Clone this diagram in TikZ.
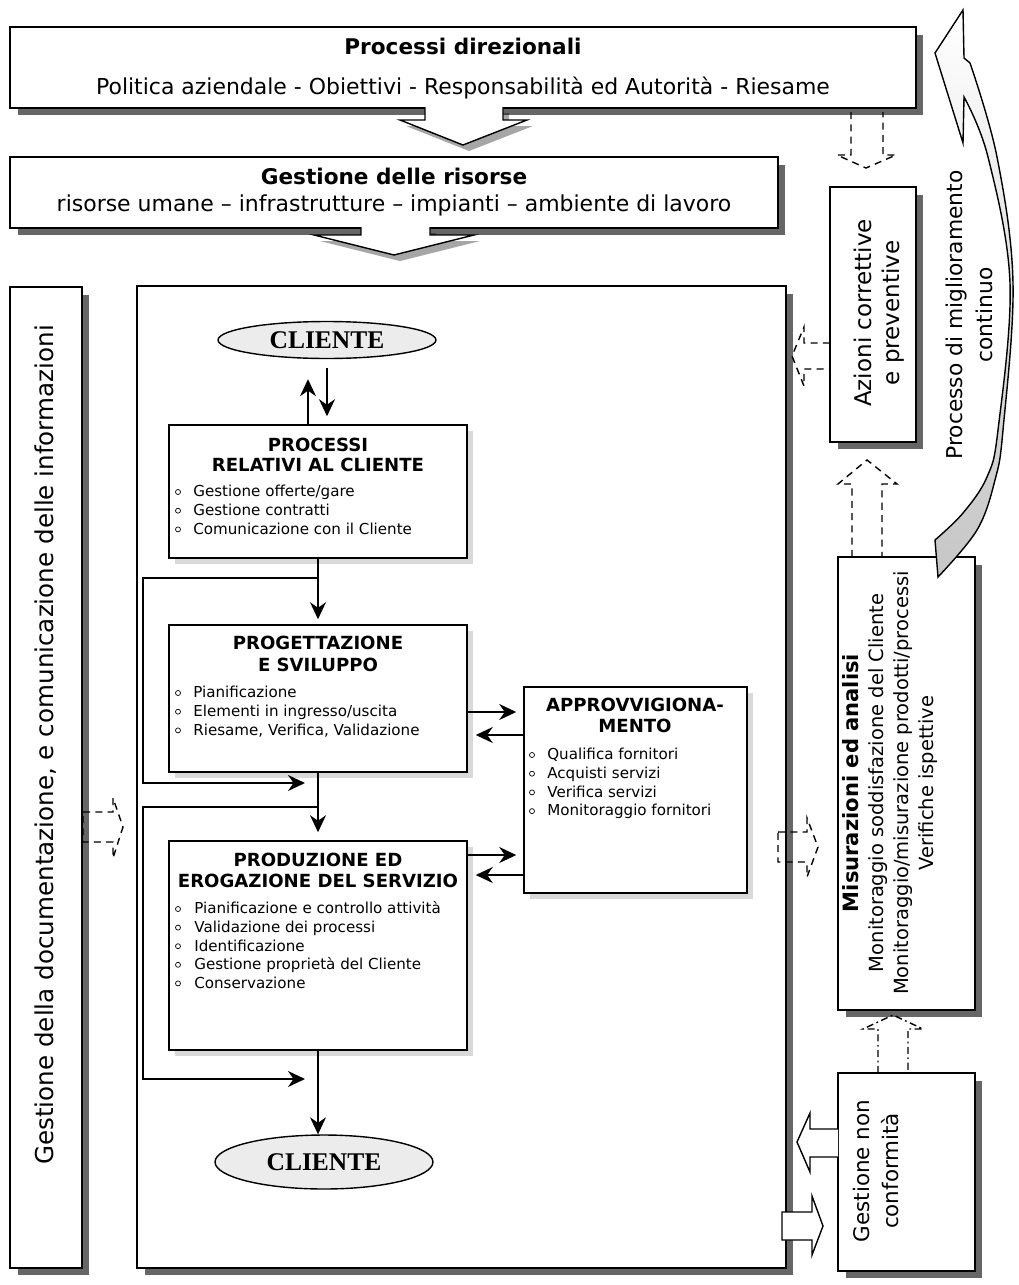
\documentclass[tikz,border=0pt]{standalone}
\usepackage{fontspec}
\setmainfont{DejaVu Sans}
\newfontfamily\clfont{Liberation Serif}
\usetikzlibrary{shadows,arrows.meta,positioning,shapes.geometric}

\tikzset{
  box/.style={draw, line width=1pt, fill=white, inner sep=0pt},
  inbox/.style={draw, line width=0.9pt, fill=white, inner sep=0pt},
  bigshadow/.style={drop shadow={shadow xshift=0.15cm, shadow yshift=-0.15cm, opacity=0.6, fill=black}},
  softshadow/.style={drop shadow={shadow xshift=0.12cm, shadow yshift=-0.12cm, opacity=0.15, fill=black}},
  arrshadow/.style={drop shadow={shadow xshift=0.12cm, shadow yshift=-0.12cm, opacity=0.35, fill=black}},
  cliente/.style={draw, ellipse, fill=gray!15, line width=0.8pt, inner sep=0pt,
    font=\clfont\bfseries\fontsize{14.5}{16}\selectfont},
  flow/.style={line width=1pt, -{Stealth[length=3.4mm, width=3.2mm]}},
  hollow/.style={draw, line width=0.8pt, fill=white},
  dasharrow/.style={draw, line width=0.8pt, dash pattern=on 4pt off 3pt},
  dotarrow/.style={draw, line width=0.8pt, dash pattern=on 4pt off 2pt on 1pt off 2pt},
  toptitle/.style={inner sep=0pt, anchor=mid, font=\bfseries\fontsize{12.3}{14}\selectfont},
  toptext/.style={inner sep=0pt, anchor=mid, font=\fontsize{12.5}{14}\selectfont},
  boxtitle/.style={inner sep=0pt, anchor=mid, font=\bfseries\fontsize{10.3}{12}\selectfont},
  itm/.style={inner sep=0pt, anchor=mid west, font=\fontsize{8.6}{10}\selectfont},
  bul/.style={draw, circle, line width=0.4pt, inner sep=0pt, minimum size=0.1cm},
  sidetext/.style={rotate=90, inner sep=0pt, align=center}
}

\begin{document}
\begin{tikzpicture}[x=0.02cm, y=-0.02cm]
  \useasboundingbox (0,0) rectangle (1018,1285);

  %% Processi direzionali
  \node[box, bigshadow, minimum width=18.12cm, minimum height=1.62cm] (dir) at (463,67.5) {};
  \node[toptitle] (dirT) at (463,50) {Processi direzionali};
  \node[toptext]  (dirS) at (463,90) {Politica aziendale - Obiettivi - Responsabilità ed Autorità - Riesame};
  \path[hollow, arrshadow] (425,107) -- (425,120) -- (400,120) -- (463,145) -- (527,120) -- (503,120) -- (503,107);

  %% Gestione delle risorse
  \node[box, bigshadow, minimum width=15.36cm, minimum height=1.42cm] (ris) at (394,192.5) {};
  \node[toptitle] (risT) at (394,180) {Gestione delle risorse};
  \node[toptext]  (risS) at (394,207) {risorse umane – infrastrutture – impianti – ambiente di lavoro};
  \path[hollow, arrshadow] (361,227) -- (361,235) -- (314,235) -- (394,255) -- (474,235) -- (430,235) -- (430,227);

  %% documentazione
  \node[box, bigshadow, minimum width=1.44cm, minimum height=19.62cm] (doc) at (46,777.5) {};
  \node[sidetext, font=\fontsize{14}{16}\selectfont] (docT) at (46,745)
    {Gestione della documentazione, e comunicazione delle informazioni};
  \path[dasharrow] (83,812) -- (113,812) -- (113,798) -- (123,827) -- (113,858) -- (113,842) -- (83,842) -- cycle;

  %% main box
  \node[box, bigshadow, minimum width=12.98cm, minimum height=19.64cm] (main) at (461.5,777) {};

  % Cliente
  \node[cliente, minimum width=4.36cm, minimum height=0.74cm] (cl1) at (327,340) {CLIENTE};

  % Processi relativi al cliente
  \node[inbox, softshadow, minimum width=5.96cm, minimum height=2.66cm] (rel) at (318,491.5) {};
  \node[boxtitle] (relT1) at (318,447) {PROCESSI};
  \node[boxtitle] (relT2) at (318,467) {RELATIVI AL CLIENTE};
  \foreach \t [count=\i from 0] in {Gestione offerte/gare, Gestione contratti, Comunicazione con il Cliente} {
    \node[bul] (relB\i) at (178,492+\i*18.7) {};
    \node[itm] (relI\i) at (193,492+\i*18.7) {\t};
  }

  % Progettazione e sviluppo
  \node[inbox, softshadow, minimum width=5.96cm, minimum height=2.94cm] (prog) at (318,698.5) {};
  \node[boxtitle] (progT1) at (318,645) {PROGETTAZIONE};
  \node[boxtitle] (progT2) at (318,667) {E SVILUPPO};
  \foreach \t [count=\i from 0] in {Pianificazione, Elementi in ingresso/uscita, {Riesame, Verifica, Validazione}} {
    \node[bul] (progB\i) at (178,693+\i*18.7) {};
    \node[itm] (progI\i) at (193,693+\i*18.7) {\t};
  }

  % Approvvigionamento
  \node[inbox, softshadow, minimum width=4.46cm, minimum height=4.12cm] (appr) at (635.5,790) {};
  \node[boxtitle] (apprT1) at (635,707) {APPROVVIGIONA-};
  \node[boxtitle] (apprT2) at (635,728) {MENTO};
  \foreach \t [count=\i from 0] in {Qualifica fornitori, Acquisti servizi, Verifica servizi, Monitoraggio fornitori} {
    \node[bul] (apprB\i) at (532,755+\i*18.7) {};
    \node[itm] (apprI\i) at (547,755+\i*18.7) {\t};
  }

  % Produzione ed erogazione
  \node[inbox, softshadow, minimum width=5.96cm, minimum height=4.18cm] (prod) at (318,945.5) {};
  \node[boxtitle] (prodT1) at (318,862) {PRODUZIONE ED};
  \node[boxtitle] (prodT2) at (318,883) {EROGAZIONE DEL SERVIZIO};
  \foreach \t [count=\i from 0] in {Pianificazione e controllo attività, Validazione dei processi, Identificazione, Gestione proprietà del Cliente, Conservazione} {
    \node[bul] (prodB\i) at (178,909+\i*18.6) {};
    \node[itm] (prodI\i) at (194,909+\i*18.6) {\t};
  }

  \node[cliente, minimum width=4.36cm, minimum height=1.08cm] (cl2) at (324,1162) {CLIENTE};

  % flow
  \draw[flow, shorten <=0.18cm, shorten >=0.16cm] (cl1.south) -- (cl1.south |- rel.north);
  \draw[flow, shorten >=0.4cm] ([xshift=-0.2cm]rel.north) -- ([xshift=-0.2cm]rel.north |- cl1.south);
  \draw[flow, shorten >=0.1cm] (rel.south) -- (prog.north);
  \draw[flow, shorten >=0.16cm] (prog.south) -- (prod.north);
  \draw[flow] (prod.south) -- (prod.south |- cl2.north);

  % loops
  \coordinate (lp) at (143,0);
  \coordinate (j1) at (318,578);
  \coordinate (e1) at (305,783);
  \coordinate (j2) at (318,807);
  \coordinate (e2) at (305,1079);
  \draw[flow] (j1) -- (j1 -| lp) |- (e1);
  \draw[flow] (j2) -- (j2 -| lp) |- (e2);

  % approvvigionamento
  \coordinate (pa1) at ([yshift=-0.27cm]prog.east);
  \coordinate (pa2) at ([yshift=-0.73cm]prog.east);
  \coordinate (pa3) at ([yshift=1.81cm]prod.east);
  \coordinate (pa4) at ([yshift=1.41cm]prod.east);
  \draw[flow, shorten >=0.14cm] (pa1) -- (pa1 -| appr.west);
  \draw[flow, shorten >=0.16cm] (pa2 -| appr.west) -- (pa2);
  \draw[flow, shorten >=0.14cm] (pa3) -- (pa3 -| appr.west);
  \draw[flow, shorten >=0.16cm] (pa4 -| appr.west) -- (pa4);

  %% Azioni correttive
  \node[box, bigshadow, minimum width=1.72cm, minimum height=5.1cm] (az) at (873,314.5) {};
  \node[sidetext, font=\fontsize{13.1}{16}\selectfont] (azT) at (879,313) {Azioni correttive\\e preventive};
  \path[dasharrow] (851,112) -- (851,155) -- (837,155) -- (866,168) -- (896,155) -- (883,155) -- (883,112);
  \path[dasharrow] (830,343) -- (804,343) -- (804,327) -- (792,356) -- (804,386) -- (804,369) -- (830,369);

  %% Misurazioni ed analisi
  \node[box, bigshadow, minimum width=2.74cm, minimum height=9.06cm] (mis) at (906.5,783.5) {};
  \node[sidetext, font=\fontsize{11.1}{14.2}\selectfont] (misT) at (890,783)
    {{\bfseries\fontsize{12}{14.2}\selectfont Misurazioni ed analisi}\\Monitoraggio soddisfazione del Cliente\\Monitoraggio/misurazione prodotti/processi\\Verifiche ispettive};
  \path[dasharrow] (852,557) -- (852,484) -- (838,484) -- (867,460) -- (897,484) -- (882,484) -- (882,557);
  \path[dasharrow] (778,832) -- (807,832) -- (807,818) -- (818,847) -- (807,877) -- (807,862) -- (778,862) -- cycle;

  %% Processo di miglioramento continuo
  \path[draw, line width=0.8pt, top color=white, bottom color=gray!45]
    (938,577) -- plot[smooth, tension=0.6] coordinates {(938,577) (977,530) (995,480) (1003,430) (1013,283) (997,157) (970,63)}
    -- (964,58) -- (963,10) -- (935,53) -- (963,143) -- (964,97)
    -- plot[smooth, tension=0.6] coordinates {(964,97) (988,157) (1010,283) (998,430) (987,477) (963,513) (935,540)}
    -- cycle;
  \node[sidetext, font=\fontsize{12.4}{17}\selectfont] (migT) at (969,315) {Processo di miglioramento\\continuo};

  %% Gestione non conformita
  \node[box, bigshadow, minimum width=2.74cm, minimum height=3.96cm] (gnc) at (906.5,1172) {};
  \node[sidetext, font=\fontsize{12.2}{16}\selectfont] (gncT) at (876,1171) {Gestione non\\conformità};
  \path[dotarrow] (878,1073) -- (878,1029) -- (863,1029) -- (893,1015) -- (923,1029) -- (908,1029) -- (908,1073);
  \path[hollow] (838,1129) -- (810,1129) -- (810,1113) -- (797,1142) -- (810,1172) -- (810,1157) -- (838,1157);
  \path[hollow] (782,1212) -- (812,1212) -- (812,1196) -- (823,1226) -- (812,1255) -- (812,1240) -- (782,1240) -- cycle;

\end{tikzpicture}
\end{document}
